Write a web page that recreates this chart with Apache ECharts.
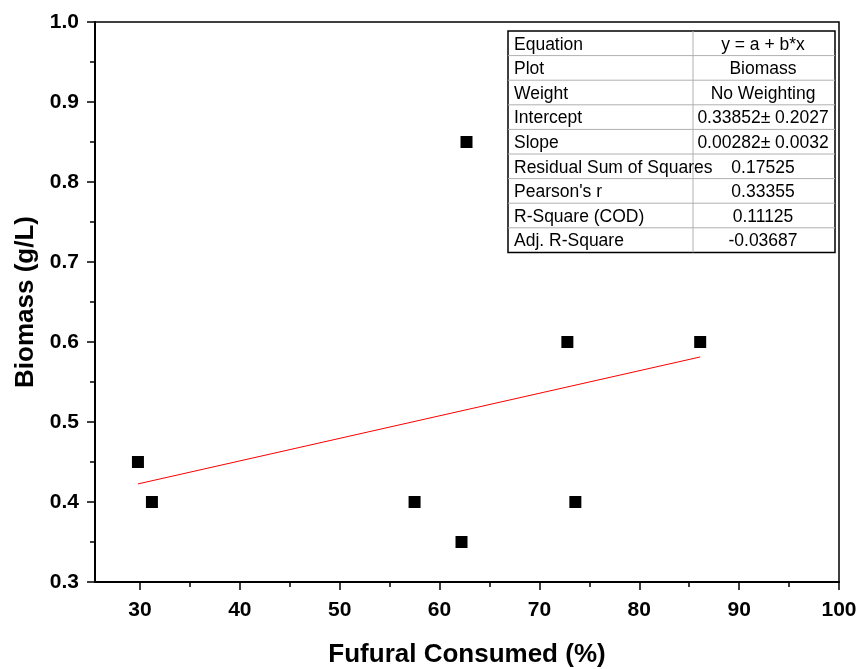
<!DOCTYPE html>
<html>
<head>
<meta charset="utf-8">
<script src="https://cdn.jsdelivr.net/npm/echarts@6/dist/echarts.min.js"></script>
<style>
  html, body { margin: 0; padding: 0; background: #fff; }
  #chart { width: 867px; height: 669px; }
</style>
</head>
<body>
<div id="chart"></div>
<script>
// fufural consumed (%) vs biomass (g/L)
const fufuralConsumed = [29.8, 31.2, 57.5, 62.2, 62.7, 72.8, 73.6, 86.1];
const biomass = [0.45, 0.40, 0.40, 0.35, 0.85, 0.60, 0.40, 0.60];
// linear fit drawn from first to last x
const fitX = [29.8, 86.1];
const fitY = [0.4226, 0.5813];

const xMajorTicks = [30, 40, 50, 60, 70, 80, 90, 100];
const xMinorTicks = [35, 45, 55, 65, 75, 85, 95];

const tableKeys = ["Equation", "Plot", "Weight", "Intercept", "Slope",
  "Residual Sum of Squares", "Pearson's r", "R-Square (COD)", "Adj. R-Square"];
const tableValues = ["y = a + b*x", "Biomass", "No Weighting", "0.33852\u00b1 0.2027",
  "0.00282\u00b1 0.0032", "0.17525", "0.33355", "0.11125", "-0.03687"];

const FONT = "Liberation Sans, Arial, sans-serif";

const chart = echarts.init(document.getElementById("chart"));

// results table in the top right corner
const tbl = { x: 508, y: 31, w: 327, rowH: 24.6, colX: 693 };
const tableGraphic = [];
tableGraphic.push({
  type: "rect",
  shape: { x: tbl.x, y: tbl.y, width: tbl.w, height: tbl.rowH * tableKeys.length },
  style: { fill: "#fff", stroke: "#000", lineWidth: 1.5 },
  z: 10,
});
for (let i = 1; i < tableKeys.length; i++) {
  const yy = tbl.y + tbl.rowH * i;
  tableGraphic.push({
    type: "line",
    shape: { x1: tbl.x, y1: yy, x2: tbl.x + tbl.w, y2: yy },
    style: { stroke: "#b0b0b0", lineWidth: 1 },
    z: 11,
  });
}
tableGraphic.push({
  type: "line",
  shape: { x1: tbl.colX, y1: tbl.y, x2: tbl.colX, y2: tbl.y + tbl.rowH * tableKeys.length },
  style: { stroke: "#b0b0b0", lineWidth: 1 },
  z: 11,
});
tableKeys.forEach((k, i) => {
  const cy = tbl.y + tbl.rowH * (i + 0.5) + 1.5;
  tableGraphic.push({
    type: "text",
    x: tbl.x + 6, y: cy,
    style: { text: k, fill: "#000", font: "17.5px " + FONT, verticalAlign: "middle", align: "left" },
    z: 12,
  });
  tableGraphic.push({
    type: "text",
    x: 763, y: cy,
    style: { text: tableValues[i], fill: "#000", font: "17.5px " + FONT, verticalAlign: "middle", align: "center" },
    z: 12,
  });
});

const option = {
  backgroundColor: "#fff",
  animation: false,
  grid: {
    left: 95, right: 28, top: 22, bottom: 87,
    outerBoundsMode: "none",
    containLabel: false,
    show: true, borderColor: "#000", borderWidth: 1.5,
  },
  xAxis: [
    {
      type: "value",
      min: 25.5, max: 100,
      name: "Fufural Consumed (%)",
      nameLocation: "middle",
      nameGap: 60,
      nameTextStyle: { fontFamily: FONT, fontSize: 26, fontWeight: "bold", color: "#000" },
      axisLine: { show: true, lineStyle: { color: "#000", width: 2 } },
      axisTick: { show: true, length: 8, lineStyle: { color: "#000", width: 1.5 }, customValues: xMajorTicks },
      axisLabel: {
        customValues: xMajorTicks,
        margin: 18,
        fontFamily: FONT, fontSize: 21, fontWeight: "bold", color: "#000",
      },
      splitLine: { show: false },
    },
    {
      type: "value",
      min: 25.5, max: 100,
      position: "bottom",
      axisLine: { show: false },
      axisTick: { show: true, length: 5, lineStyle: { color: "#000", width: 1.5 }, customValues: xMinorTicks },
      axisLabel: { show: false },
      splitLine: { show: false },
    },
  ],
  yAxis: {
    type: "value",
    min: 0.3, max: 1.0, interval: 0.1,
    name: "Biomass (g/L)",
    nameLocation: "middle",
    nameGap: 55,
    nameTextStyle: { fontFamily: FONT, fontSize: 26, fontWeight: "bold", color: "#000" },
    axisLine: { show: true, lineStyle: { color: "#000", width: 2 } },
    axisTick: { show: true, length: 8, lineStyle: { color: "#000", width: 1.5 } },
    minorTick: { show: true, splitNumber: 2, length: 5, lineStyle: { color: "#000", width: 1.5 } },
    axisLabel: {
      margin: 16,
      formatter: (v) => v.toFixed(1),
      fontFamily: FONT, fontSize: 21, fontWeight: "bold", color: "#000",
    },
    splitLine: { show: false },
  },
  series: [
    {
      name: "Biomass",
      type: "scatter",
      symbol: "rect",
      symbolSize: 12,
      itemStyle: { color: "#000", opacity: 1 },
      data: fufuralConsumed.map((x, i) => [x, biomass[i]]),
      z: 5,
    },
    {
      name: "Linear Fit",
      type: "line",
      showSymbol: false,
      symbol: "none",
      lineStyle: { color: "#ff0000", width: 1 },
      data: fitX.map((x, i) => [x, fitY[i]]),
      z: 4,
    },
  ],
  graphic: tableGraphic,
};

chart.setOption(option);
</script>
</body>
</html>
